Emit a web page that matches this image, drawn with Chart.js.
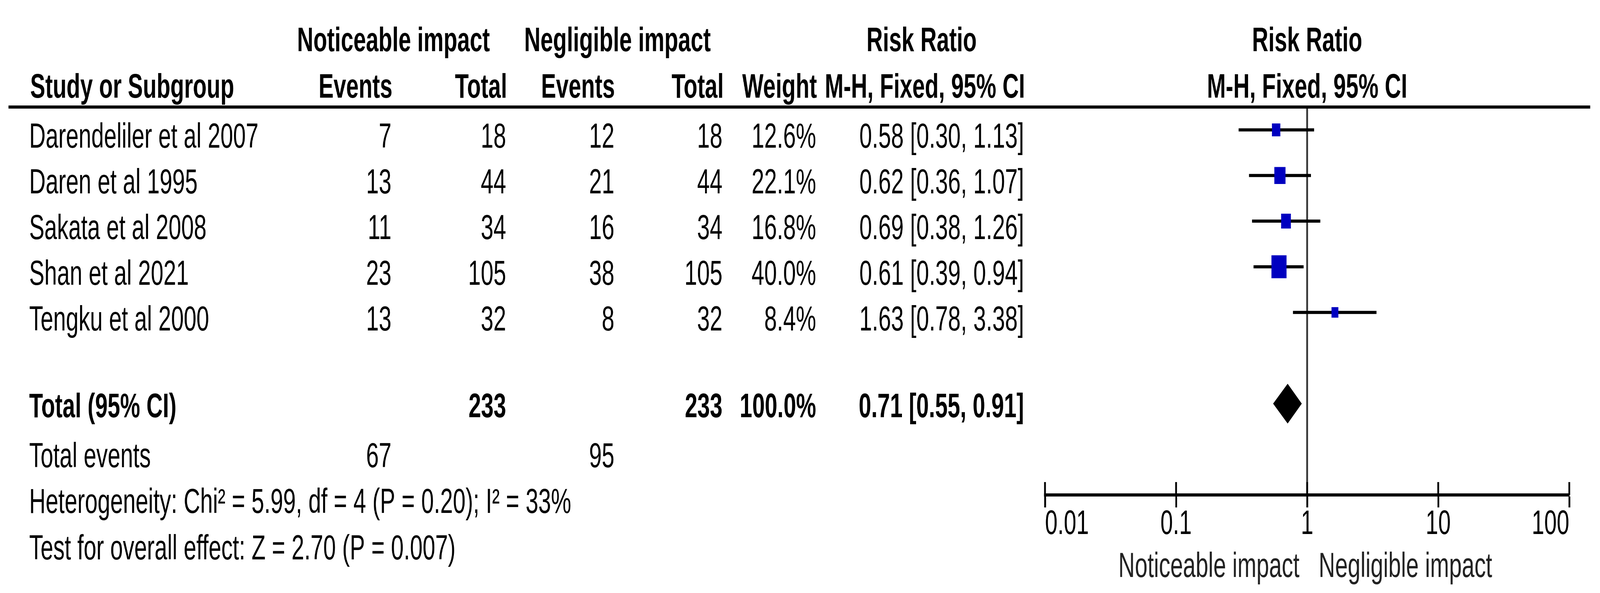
<!DOCTYPE html>
<html>
<head>
<meta charset="utf-8" />
<title>Forest plot - Risk Ratio</title>
<script src="https://cdn.jsdelivr.net/npm/chart.js@4.4.1/dist/chart.umd.min.js"></script>
<style>
html, body { margin: 0; padding: 0; background: #fff; overflow: hidden; }
/* the drawing is made at 6250x1518 and stretched onto whatever window we get */
#forest { display: block; width: 100vw; height: 100vh; }
</style>
</head>
<body>
<canvas id="forest" width="6250" height="1518" style="width:100vw;height:100vh"></canvas>
<script>
// data
var studies = ['Darendeliler et al 2007', 'Daren et al 1995', 'Sakata et al 2008', 'Shan et al 2021', 'Tengku et al 2000'];
var noticeableEvents = [7, 13, 11, 23, 13];
var noticeableTotal = [18, 44, 34, 105, 32];
var negligibleEvents = [12, 21, 16, 38, 8];
var negligibleTotal = [18, 44, 34, 105, 32];
var weights = [12.6, 22.1, 16.8, 40.0, 8.4];
var riskRatio = [0.58, 0.62, 0.69, 0.61, 1.63];
var ciLow = [0.30, 0.36, 0.38, 0.39, 0.78];
var ciHigh = [1.13, 1.07, 1.26, 0.94, 3.38];

var pooled = [0.71, 0.55, 0.91];          // RR, low, high
var pooledTotals = [233, 233];
var pooledWeight = '100.0%';
var totalEvents = [67, 95];
var heterogeneity = 'Heterogeneity: Chi\u00b2 = 5.99, df = 4 (P = 0.20); I\u00b2 = 33%';
var overallEffect = 'Test for overall effect: Z = 2.70 (P = 0.007)';

var tickValues = [0.01, 0.1, 1, 10, 100];
var tickLabels = ['0.01', '0.1', '1', '10', '100'];

var FONT = '"Liberation Sans", Arial, sans-serif';
Chart.defaults.font.family = FONT;

function txt(ctx, s, x, y, align, bold) {
  ctx.font = (bold ? 'bold 88px ' : '89px ') + FONT;
  ctx.textAlign = align;
  ctx.textBaseline = 'alphabetic';
  ctx.fillStyle = '#000';
  ctx.fillText(s, x, y);
}
function ci(r, lo, hi) {
  return r.toFixed(2) + ' [' + lo.toFixed(2) + ', ' + hi.toFixed(2) + ']';
}

// vertical line of no effect, under the whiskers
var refLine = {
  id: 'refLine',
  beforeDatasetsDraw: function(chart) {
    var ctx = chart.ctx, a = chart.chartArea;
    var x = chart.scales.x.getPixelForValue(1);
    ctx.save();
    ctx.strokeStyle = '#333';
    ctx.lineWidth = 7;
    ctx.beginPath();
    ctx.moveTo(x, a.top);
    ctx.lineTo(x, a.bottom);
    ctx.stroke();
    ctx.restore();
  }
};

// table text, header rule, pooled diamond
var table = {
  id: 'table',
  afterDraw: function(chart) {
    var ctx = chart.ctx, a = chart.chartArea;
    var xs = chart.scales.x, ys = chart.scales.y;
    var x1 = xs.getPixelForValue(1);
    var col = {study: 114, nEv: 1529, nTot: 1977, gEv: 2400, gTot: 2822, wt: 3188, ci: 4000};
    ctx.save();

    // header
    txt(ctx, 'Noticeable impact', 1537, 131, 'center', true);
    txt(ctx, 'Negligible impact', 2412, 131, 'center', true);
    txt(ctx, 'Risk Ratio', 3600, 131, 'center', true);
    txt(ctx, 'Risk Ratio', x1, 131, 'center', true);
    txt(ctx, 'Study or Subgroup', 118, 250, 'left', true);
    txt(ctx, 'Events', 1533, 250, 'right', true);
    txt(ctx, 'Total', 1981, 250, 'right', true);
    txt(ctx, 'Events', 2402, 250, 'right', true);
    txt(ctx, 'Total', 2827, 250, 'right', true);
    txt(ctx, 'Weight', 3191, 250, 'right', true);
    txt(ctx, 'M-H, Fixed, 95% CI', 4004, 250, 'right', true);
    txt(ctx, 'M-H, Fixed, 95% CI', x1, 250, 'center', true);

    ctx.strokeStyle = '#000';
    ctx.lineWidth = 8;
    ctx.beginPath();
    ctx.moveTo(33, a.top);
    ctx.lineTo(6212, a.top);
    ctx.stroke();

    // study rows
    studies.forEach(function(s, i) {
      var y = ys.getPixelForValue(i + 0.5) + 46;
      txt(ctx, s, col.study, y, 'left');
      txt(ctx, String(noticeableEvents[i]), col.nEv, y, 'right');
      txt(ctx, String(noticeableTotal[i]), col.nTot, y, 'right');
      txt(ctx, String(negligibleEvents[i]), col.gEv, y, 'right');
      txt(ctx, String(negligibleTotal[i]), col.gTot, y, 'right');
      txt(ctx, weights[i].toFixed(1) + '%', col.wt, y, 'right');
      txt(ctx, ci(riskRatio[i], ciLow[i], ciHigh[i]), col.ci, y, 'right');
    });

    // totals
    var yt = ys.getPixelForValue(6.4) + 46;
    txt(ctx, 'Total (95% CI)', col.study, yt, 'left', true);
    txt(ctx, String(pooledTotals[0]), col.nTot, yt, 'right', true);
    txt(ctx, String(pooledTotals[1]), col.gTot, yt, 'right', true);
    txt(ctx, pooledWeight, col.wt, yt, 'right', true);
    txt(ctx, ci(pooled[0], pooled[1], pooled[2]), col.ci, yt, 'right', true);

    var ye = ys.getPixelForValue(7.5) + 46;
    txt(ctx, 'Total events', col.study, ye, 'left');
    txt(ctx, String(totalEvents[0]), col.nEv, ye, 'right');
    txt(ctx, String(totalEvents[1]), col.gEv, ye, 'right');
    txt(ctx, heterogeneity, col.study, ys.getPixelForValue(8.5) + 46, 'left');
    txt(ctx, overallEffect, col.study, ys.getPixelForValue(9.52) + 46, 'left');

    // pooled diamond
    var cy = ys.getPixelForValue(6.5);
    ctx.fillStyle = '#000';
    ctx.beginPath();
    ctx.moveTo(xs.getPixelForValue(pooled[1]), cy);
    ctx.lineTo(xs.getPixelForValue(pooled[0]), cy - 51);
    ctx.lineTo(xs.getPixelForValue(pooled[2]), cy);
    ctx.lineTo(xs.getPixelForValue(pooled[0]), cy + 51);
    ctx.closePath();
    ctx.fill();

    // tick stubs above the axis line
    ctx.strokeStyle = '#000';
    ctx.lineWidth = 7;
    tickValues.forEach(function(v) {
      var x = xs.getPixelForValue(v);
      ctx.beginPath();
      ctx.moveTo(x, a.bottom - 33);
      ctx.lineTo(x, a.bottom);
      ctx.stroke();
    });

    // favours labels
    ctx.font = '89px ' + FONT;
    ctx.fillStyle = '#222';
    ctx.textAlign = 'right';
    ctx.fillText('Noticeable impact', x1 - 30, 1477);
    ctx.textAlign = 'left';
    ctx.fillText('Negligible impact', x1 + 45, 1477);
    ctx.restore();
  }
};

var whiskers = studies.map(function(s, i) {
  return {
    type: 'line',
    label: s + ' CI',
    data: [{x: ciLow[i], y: i + 0.5}, {x: ciHigh[i], y: i + 0.5}],
    borderColor: '#000',
    borderWidth: 8,
    pointRadius: 0,
    fill: false
  };
});

var squares = {
  type: 'scatter',
  label: 'Risk ratio',
  data: riskRatio.map(function(r, i) { return {x: r, y: i + 0.5}; }),
  pointStyle: 'rect',
  pointRadius: weights.map(function(w) { return 9.3 * Math.sqrt(w) / Math.SQRT2; }),
  pointHoverRadius: weights.map(function(w) { return 9.3 * Math.sqrt(w) / Math.SQRT2; }),
  backgroundColor: '#0000c0',
  borderWidth: 0
};

new Chart(document.getElementById('forest'), {
  type: 'scatter',
  data: { datasets: [squares].concat(whiskers) },
  options: {
    responsive: false,
    devicePixelRatio: 1,
    animation: false,
    layout: { padding: { left: 4082, right: 120, top: 274, bottom: 0 } },
    plugins: { legend: { display: false }, tooltip: { enabled: false } },
    scales: {
      x: {
        type: 'logarithmic',
        position: 'bottom',
        min: 0.01,
        max: 100,
        afterBuildTicks: function(scale) {
          scale.ticks = tickValues.map(function(v) { return {value: v}; });
        },
        afterFit: function(scale) { scale.height = 251; },
        border: { display: true, color: '#000', width: 8 },
        grid: { drawOnChartArea: false, drawTicks: true, tickLength: 32, tickWidth: 7, tickColor: '#000' },
        ticks: {
          align: 'inner',
          autoSkip: false,
          maxRotation: 0,
          padding: 0,
          color: '#000',
          font: { size: 88, lineHeight: 1 },
          callback: function(v, i) { return tickLabels[i]; }
        }
      },
      y: {
        type: 'linear',
        display: false,
        reverse: true,
        min: 0,
        max: 8.5
      }
    }
  },
  plugins: [refLine, table]
});
</script>
</body>
</html>
